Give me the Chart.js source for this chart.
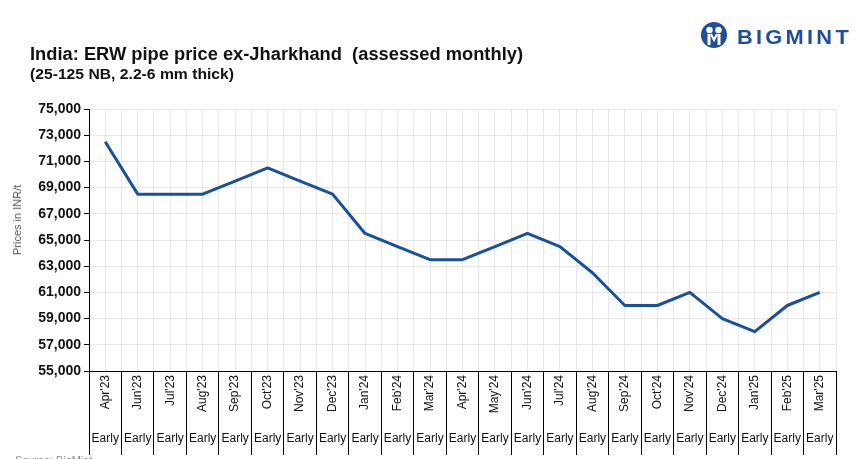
<!DOCTYPE html>
<html><head><meta charset="utf-8">
<script src="https://cdn.jsdelivr.net/npm/chart.js@4.4.1/dist/chart.umd.min.js"></script>
<style>
html,body{margin:0;padding:0;width:856px;height:459px;overflow:hidden;background:#fff;}
#wrap{position:relative;width:856px;height:459px;}
canvas{position:absolute;left:0;top:0;}
.t{position:absolute;font-family:'Liberation Sans',Arial,sans-serif;white-space:nowrap;transform-origin:0 0;}
</style></head>
<body><div id="wrap">
<canvas id="c" width="856" height="459"></canvas>
<div id="title" class="t" style="left:30px;top:44px;font-size:18px;font-weight:bold;color:#111;">India: ERW pipe price ex-Jharkhand&nbsp; (assessed monthly)</div>
<div id="sub" class="t" style="left:30px;top:66px;font-size:14px;font-weight:bold;color:#111;">(25-125 NB, 2.2-6 mm thick)</div>
<div id="ytitle" class="t" style="left:17px;top:220px;font-size:11px;color:#555;transform-origin:50% 50%;transform:translate(-50%,-50%) rotate(-90deg);">Prices in INR/t</div>
<div id="src" class="t" style="left:15px;top:454px;font-size:11px;color:#888;">Source: BigMint</div>
<svg style="position:absolute;left:700px;top:21px;" width="28" height="28" viewBox="0 0 28 28">
  <circle cx="14" cy="14" r="13" fill="#1f4e9e"/>
  <circle cx="9.5" cy="9" r="3.2" fill="#fff"/>
  <circle cx="18.5" cy="9" r="3.2" fill="#fff"/>
  <rect x="7.5" y="13" width="3" height="11" fill="#fff"/>
  <rect x="17.5" y="13" width="3" height="11" fill="#fff"/>
  <path d="M11 13 L14 19 L17 13" stroke="#fff" stroke-width="2" fill="none"/>
</svg>
<div id="logo" class="t" style="left:737px;top:26px;font-size:20px;font-weight:bold;color:#1f4e9e;letter-spacing:3px;">BIGMINT</div>
</div>
<script>
const categories = ["Apr'23","Jun'23","Jul'23","Aug'23","Sep'23","Oct'23","Nov'23","Dec'23","Jan'24","Feb'24","Mar'24","Apr'24","May'24","Jun'24","Jul'24","Aug'24","Sep'24","Oct'24","Nov'24","Dec'24","Jan'25","Feb'25","Mar'25"];
const periodLabels = ["Early","Early","Early","Early","Early","Early","Early","Early","Early","Early","Early","Early","Early","Early","Early","Early","Early","Early","Early","Early","Early","Early","Early"];
const prices = [72500,68500,68500,68500,69500,70500,69500,68500,65500,64500,63500,63500,64500,65500,64500,62500,60000,60000,61000,59000,58000,60000,61000];
const yMin = 55000, yMax = 75000, yStep = 2000;

function fit(id, w){
  const el = document.getElementById(id);
  const cur = el.getBoundingClientRect().width;
  el.style.transform = 'scaleX(' + (w/cur) + ')';
}
fit('title', 493);
fit('sub', 204);
fit('logo', 115);

const FF = "'Liberation Sans', Arial, sans-serif";
const GRID = '#e8e8e8';

new Chart(document.getElementById('c'), {
  type: 'line',
  data: {
    labels: categories,
    datasets: [{
      data: prices,
      borderColor: '#17509d',
      borderWidth: 3,
      pointRadius: 0,
      pointHoverRadius: 0,
      fill: false,
      tension: 0,
      borderJoinStyle: 'round',
      xAxisID: 'x',
      yAxisID: 'y'
    }]
  },
  options: {
    responsive: false,
    animation: false,
    events: [],
    layout: { padding: { top: 109, right: 20, bottom: 4, left: 0 } },
    plugins: { legend: { display: false }, tooltip: { enabled: false }, title: { display: false } },
    scales: {
      x: {
        type: 'category',
        position: 'bottom',
        weight: 0,
        offset: true,
        grid: { offset: true, color: GRID, tickColor: '#000', tickLength: 84, lineWidth: 1 },
        border: { color: '#000', width: 1 },
        ticks: { autoSkip: false, minRotation: 90, maxRotation: 90, padding: -80, color: '#111', font: { family: FF, size: 12 } },
        afterFit: s => { s.height = 50; }
      },
      xc: {
        type: 'category',
        labels: categories,
        position: 'top',
        offset: true,
        grid: { offset: false, color: GRID, drawTicks: false, lineWidth: 1 },
        border: { display: false },
        ticks: { display: false },
        afterFit: s => { s.height = 0; }
      },
      xp: {
        type: 'category',
        labels: periodLabels,
        position: 'bottom',
        weight: 1,
        offset: true,
        grid: { display: false, drawTicks: false },
        border: { display: false },
        ticks: { autoSkip: false, minRotation: 0, maxRotation: 0, padding: 10, color: '#111', font: { family: FF, size: 12 } },
        afterFit: s => { s.height = 34; }
      },
      y: {
        type: 'linear',
        min: yMin,
        max: yMax,
        grid: { color: GRID, tickColor: '#000', tickLength: 5, lineWidth: 1 },
        border: { color: '#000', width: 1 },
        ticks: {
          stepSize: yStep,
          padding: 3,
          color: '#111',
          font: { family: FF, size: 14, weight: 'bold' },
          callback: v => v.toLocaleString('en-US')
        },
        afterFit: s => { s.width = 89; }
      }
    }
  }
});
</script>
</body></html>
